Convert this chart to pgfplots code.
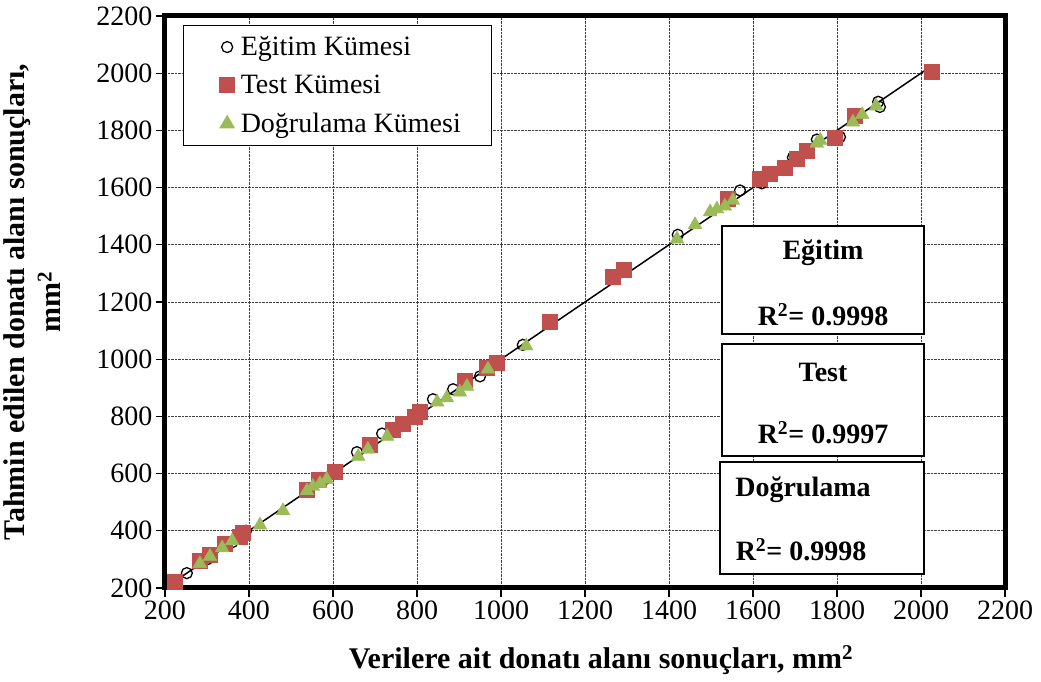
\documentclass[border=0pt]{standalone}
\usepackage{pgfplots}
\pgfplotsset{compat=1.18}
\usepackage{fontspec}
\setmainfont{Liberation Serif}
\definecolor{testred}{HTML}{C0504D}
\definecolor{dgreen}{HTML}{9BBB59}
\begin{document}
\begin{tikzpicture}
\useasboundingbox (-165pt,-94pt) rectangle (876pt,588pt);
\begin{axis}[
  at={(0pt,0pt)}, anchor=south west,
  scale only axis, width=840pt, height=572pt,
  xmin=200, xmax=2200, ymin=200, ymax=2200,
  xtick={200,400,...,2200}, ytick={200,400,...,2200},
  grid=major,
  major grid style={black!75, densely dotted, line width=0.9pt},
  axis line style={line width=5pt, black},
  tick align=outside, major tick length=9pt,
  tick style={black, line width=1.2pt},
  xtick pos=bottom, ytick pos=left,
  ticklabel style={font=\fontsize{28}{32}\selectfont},
  /pgf/number format/1000 sep={},
  /pgf/number format/assume math mode=true,
  xlabel={Verilere ait donatı alanı sonuçları, mm\textsuperscript{2}},
  xlabel style={font=\fontsize{30}{34}\selectfont\bfseries, at={(axis description cs:0.519,-0.126)}, anchor=center},
  ylabel={Tahmin edilen donatı alanı sonuçları,\\mm\textsuperscript{2}},
  ylabel style={font=\fontsize{30}{36}\selectfont\bfseries, align=center, at={(axis description cs:-0.158,0.5)}, anchor=center},
  legend style={at={(axis description cs:0.0214,0.984)}, anchor=north west, draw=black, line width=1.2pt,
    font=\fontsize{28}{32}\selectfont, row sep=14pt, inner xsep=4pt, inner ysep=9pt},
  legend cell align=left,
  legend image code/.code={\path (0pt,0pt) (50pt,0pt); \draw[#1] plot coordinates {(39pt,0pt)};},
]
\addplot[only marks, mark=o, mark size=5.5pt, mark options={line width=1.3pt, black}, color=black] coordinates {
(252,252) (393,400) (300,300) (360,360) (580,580) (657,675) (717,740) (838,860) (886,895) (950,940)
(1052,1050) (1421,1435) (1569,1590) (1621,1615) (1695,1705) (1752,1768) (1807,1777) (1898,1900) (1902,1882)
};
\addlegendentry{Eğitim Kümesi}
\addplot[only marks, mark=square*, mark size=7.5pt, color=testred] coordinates {
(224,222) (283,295) (307,318) (343,355) (379,380) (386,392) (538,545) (565,580) (605,605) (688,700)
(743,755) (767,775) (795,800) (807,815) (914,925) (966,969) (990,987) (1117,1130) (1267,1287) (1293,1312)
(1540,1560) (1617,1632) (1640,1650) (1676,1668) (1705,1700) (1729,1730) (1795,1775) (1843,1850) (2025,2005)
};
\addlegendentry{Test Kümesi}
\addplot[only marks, mark=triangle*, mark size=8pt, color=dgreen] coordinates {
(283,285) (307,310) (336,340) (360,365) (426,420) (481,470) (538,540) (552,555) (569,565) (585,580)
(660,660) (683,685) (729,730) (848,850) (871,865) (902,885) (919,905) (969,965) (1060,1046) (1419,1420)
(1462,1470) (1498,1515) (1514,1525) (1533,1535) (1552,1555) (1752,1755) (1760,1765) (1838,1829) (1860,1855) (1893,1885)
};
\addlegendentry{\makebox[245pt][l]{Doğrulama Kümesi}}
\addplot[black, line width=1.5pt, forget plot] coordinates {(222,222) (2028,2028)};
\end{axis}
\begin{scope}[line width=1.2pt]
\draw[fill=white] (557pt,254pt) rectangle (759pt,362pt);
\draw[fill=white] (557pt,132pt) rectangle (759pt,244pt);
\draw[fill=white] (555pt,14pt) rectangle (759pt,126pt);
\end{scope}
\begin{scope}[every node/.style={font=\fontsize{28}{30}\selectfont\bfseries, inner sep=0pt}]
\node at (658pt,335pt) {Eğitim};
\node at (658pt,273pt) {R\textsuperscript{2}= 0.9998};
\node at (658pt,216pt) {Test};
\node at (658pt,155pt) {R\textsuperscript{2}= 0.9997};
\node at (638pt,98pt) {Doğrulama};
\node at (636pt,38pt) {R\textsuperscript{2}= 0.9998};
\end{scope}
\end{tikzpicture}
\end{document}
